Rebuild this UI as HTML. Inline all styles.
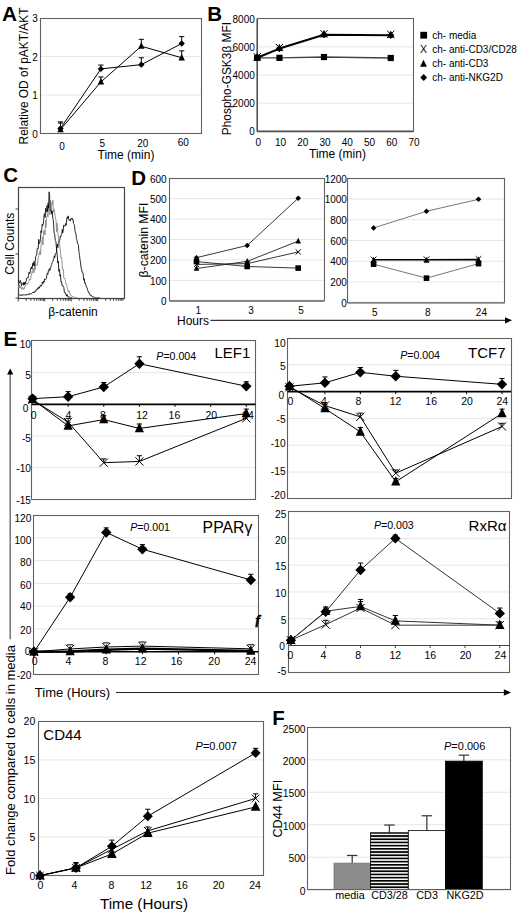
<!DOCTYPE html>
<html><head><meta charset="utf-8"><style>
html,body{margin:0;padding:0;background:#fff;}
svg{display:block;font-family:"Liberation Sans", sans-serif;}
</style></head><body>
<svg width="520" height="918" viewBox="0 0 520 918" font-family='"Liberation Sans", sans-serif'>
<rect width="520" height="918" fill="#fff"/>
<text x="2.00" y="20.50" font-size="20.8" text-anchor="start" font-weight="bold" >A</text>
<line x1="40.30" y1="95.00" x2="201.90" y2="95.00" stroke="#e6e6e6" stroke-width="1" />
<line x1="40.30" y1="56.60" x2="201.90" y2="56.60" stroke="#e6e6e6" stroke-width="1" />
<rect x="40.50" y="18.50" width="161.00" height="115.00" fill="none" stroke="#626262" stroke-width="1.1"/>
<text x="37.80" y="137.58" font-size="10" text-anchor="end" >0</text>
<text x="37.80" y="99.18" font-size="10" text-anchor="end" >1</text>
<text x="37.80" y="60.78" font-size="10" text-anchor="end" >2</text>
<text x="37.80" y="22.38" font-size="10" text-anchor="end" >3</text>
<text x="62.00" y="149.58" font-size="10" text-anchor="middle" >0</text>
<text x="102.40" y="147.48" font-size="10" text-anchor="middle" >5</text>
<text x="142.80" y="147.48" font-size="10" text-anchor="middle" >20</text>
<text x="183.20" y="146.28" font-size="10" text-anchor="middle" >60</text>
<text x="126.00" y="159.30" font-size="12" text-anchor="middle" >Time (min)</text>
<text x="28.20" y="76.00" font-size="11.9" text-anchor="middle" transform="rotate(-90 28.20 76.00)" >Relative OD of pAKT/AKT</text>
<polyline points="60.50,128.41 100.90,68.89 141.30,64.66 181.70,43.54" fill="none" stroke="#000" stroke-width="1" stroke-linejoin="round" />
<polyline points="60.50,129.56 100.90,81.94 141.30,46.23 181.70,57.75" fill="none" stroke="#000" stroke-width="1" stroke-linejoin="round" />
<line x1="60.50" y1="128.41" x2="60.50" y2="121.88" stroke="#000" stroke-width="1" />
<line x1="57.90" y1="121.88" x2="63.10" y2="121.88" stroke="#000" stroke-width="1" />
<line x1="100.90" y1="68.89" x2="100.90" y2="65.05" stroke="#000" stroke-width="1" />
<line x1="98.30" y1="65.05" x2="103.50" y2="65.05" stroke="#000" stroke-width="1" />
<line x1="141.30" y1="64.66" x2="141.30" y2="57.75" stroke="#000" stroke-width="1" />
<line x1="138.70" y1="57.75" x2="143.90" y2="57.75" stroke="#000" stroke-width="1" />
<line x1="181.70" y1="43.54" x2="181.70" y2="36.63" stroke="#000" stroke-width="1" />
<line x1="179.10" y1="36.63" x2="184.30" y2="36.63" stroke="#000" stroke-width="1" />
<line x1="60.50" y1="129.56" x2="60.50" y2="123.03" stroke="#000" stroke-width="1" />
<line x1="57.90" y1="123.03" x2="63.10" y2="123.03" stroke="#000" stroke-width="1" />
<line x1="100.90" y1="81.94" x2="100.90" y2="76.95" stroke="#000" stroke-width="1" />
<line x1="98.30" y1="76.95" x2="103.50" y2="76.95" stroke="#000" stroke-width="1" />
<line x1="141.30" y1="46.23" x2="141.30" y2="39.32" stroke="#000" stroke-width="1" />
<line x1="138.70" y1="39.32" x2="143.90" y2="39.32" stroke="#000" stroke-width="1" />
<line x1="181.70" y1="57.75" x2="181.70" y2="50.84" stroke="#000" stroke-width="1" />
<line x1="179.10" y1="50.84" x2="184.30" y2="50.84" stroke="#000" stroke-width="1" />
<polygon points="60.50,125.21 63.70,128.41 60.50,131.61 57.30,128.41" fill="#000"/>
<polygon points="100.90,65.69 104.10,68.89 100.90,72.09 97.70,68.89" fill="#000"/>
<polygon points="141.30,61.46 144.50,64.66 141.30,67.86 138.10,64.66" fill="#000"/>
<polygon points="181.70,40.34 184.90,43.54 181.70,46.74 178.50,43.54" fill="#000"/>
<polygon points="60.50,125.62 63.70,132.18 57.30,132.18" fill="#000"/>
<polygon points="100.90,78.01 104.10,84.57 97.70,84.57" fill="#000"/>
<polygon points="141.30,42.30 144.50,48.86 138.10,48.86" fill="#000"/>
<polygon points="181.70,53.82 184.90,60.38 178.50,60.38" fill="#000"/>
<text x="207.30" y="20.80" font-size="20.5" text-anchor="start" font-weight="bold" >B</text>
<line x1="257.20" y1="103.23" x2="413.00" y2="103.23" stroke="#e6e6e6" stroke-width="1" />
<line x1="257.20" y1="75.05" x2="413.00" y2="75.05" stroke="#e6e6e6" stroke-width="1" />
<line x1="257.20" y1="46.88" x2="413.00" y2="46.88" stroke="#e6e6e6" stroke-width="1" />
<rect x="257.50" y="18.50" width="156.00" height="113.00" fill="none" stroke="#626262" stroke-width="1.1"/>
<line x1="257.20" y1="18.70" x2="257.20" y2="131.40" stroke="#555" stroke-width="1.6" />
<line x1="257.20" y1="131.40" x2="413.00" y2="131.40" stroke="#555" stroke-width="1.6" />
<text x="254.80" y="135.28" font-size="10" text-anchor="end" >0</text>
<text x="254.80" y="107.11" font-size="10" text-anchor="end" >2000</text>
<text x="254.80" y="78.93" font-size="10" text-anchor="end" >4000</text>
<text x="254.80" y="50.75" font-size="10" text-anchor="end" >6000</text>
<text x="254.80" y="22.58" font-size="10" text-anchor="end" >8000</text>
<text x="258.20" y="145.78" font-size="10" text-anchor="middle" >0</text>
<text x="280.46" y="145.78" font-size="10" text-anchor="middle" >10</text>
<text x="302.71" y="145.78" font-size="10" text-anchor="middle" >20</text>
<text x="324.97" y="145.78" font-size="10" text-anchor="middle" >30</text>
<text x="347.23" y="145.78" font-size="10" text-anchor="middle" >40</text>
<text x="369.49" y="145.78" font-size="10" text-anchor="middle" >50</text>
<text x="391.74" y="145.78" font-size="10" text-anchor="middle" >60</text>
<text x="414.00" y="145.78" font-size="10" text-anchor="middle" >70</text>
<text x="337.50" y="157.80" font-size="12" text-anchor="middle" >Time (min)</text>
<text x="231.00" y="78.60" font-size="11.9" text-anchor="middle" transform="rotate(-90 231.00 78.60)" >Phospho-GSK3β MFI</text>
<polyline points="257.20,57.86 279.46,57.86 323.97,57.02 390.74,58.00" fill="none" stroke="#444" stroke-width="1.4" stroke-linejoin="round" />
<polyline points="257.20,57.72 279.46,48.57 323.97,34.76 390.74,35.32" fill="none" stroke="#000" stroke-width="2.0" stroke-linejoin="round" />
<rect x="254.10" y="54.76" width="6.20" height="6.20" fill="#000"/>
<rect x="276.36" y="54.76" width="6.20" height="6.20" fill="#000"/>
<rect x="320.87" y="53.92" width="6.20" height="6.20" fill="#000"/>
<rect x="387.64" y="54.90" width="6.20" height="6.20" fill="#000"/>
<polygon points="257.20,52.79 260.80,60.17 253.60,60.17" fill="#000"/>
<polygon points="257.20,54.12 260.80,57.72 257.20,61.32 253.60,57.72" fill="#000"/>
<path d="M253.60,53.12L260.80,60.32M260.80,53.12L253.60,60.32" stroke="#000" stroke-width="1" fill="none"/>
<polygon points="279.46,43.64 283.06,51.02 275.86,51.02" fill="#000"/>
<polygon points="279.46,44.97 283.06,48.57 279.46,52.17 275.86,48.57" fill="#000"/>
<path d="M275.86,43.97L283.06,51.17M283.06,43.97L275.86,51.17" stroke="#000" stroke-width="1" fill="none"/>
<polygon points="323.97,29.83 327.57,37.21 320.37,37.21" fill="#000"/>
<polygon points="323.97,31.16 327.57,34.76 323.97,38.36 320.37,34.76" fill="#000"/>
<path d="M320.37,30.16L327.57,37.36M327.57,30.16L320.37,37.36" stroke="#000" stroke-width="1" fill="none"/>
<polygon points="390.74,30.40 394.34,37.78 387.14,37.78" fill="#000"/>
<polygon points="390.74,31.72 394.34,35.32 390.74,38.92 387.14,35.32" fill="#000"/>
<path d="M387.14,30.72L394.34,37.92M394.34,30.72L387.14,37.92" stroke="#000" stroke-width="1" fill="none"/>
<rect x="420.30" y="31.80" width="6.80" height="6.80" fill="#000"/>
<text x="423.50" y="52.96" font-size="10.5" text-anchor="middle" >X</text>
<polygon points="423.50,59.72 426.90,66.69 420.10,66.69" fill="#000"/>
<polygon points="423.70,74.10 427.10,77.50 423.70,80.90 420.30,77.50" fill="#000"/>
<text x="432.30" y="38.78" font-size="10" text-anchor="start" >ch- media</text>
<text x="432.30" y="52.78" font-size="10" text-anchor="start" >ch- anti-CD3/CD28</text>
<text x="432.30" y="66.98" font-size="10" text-anchor="start" >ch- anti-CD3</text>
<text x="432.30" y="81.08" font-size="10" text-anchor="start" >ch- anti-NKG2D</text>
<text x="3.20" y="182.20" font-size="20.5" text-anchor="start" font-weight="bold" >C</text>
<rect x="18.50" y="187.50" width="106.00" height="111.00" fill="none" stroke="#444" stroke-width="1.2"/>
<line x1="15.50" y1="209.00" x2="18.20" y2="209.00" stroke="#444" stroke-width="1" />
<line x1="15.50" y1="254.00" x2="18.20" y2="254.00" stroke="#444" stroke-width="1" />
<line x1="15.50" y1="298.00" x2="18.20" y2="298.00" stroke="#444" stroke-width="1" />
<line x1="18.20" y1="298.20" x2="18.20" y2="301.40" stroke="#333" stroke-width="0.9" />
<line x1="26.18" y1="298.20" x2="26.18" y2="300.80" stroke="#333" stroke-width="0.9" />
<line x1="30.84" y1="298.20" x2="30.84" y2="300.80" stroke="#333" stroke-width="0.9" />
<line x1="34.15" y1="298.20" x2="34.15" y2="300.80" stroke="#333" stroke-width="0.9" />
<line x1="36.72" y1="298.20" x2="36.72" y2="300.80" stroke="#333" stroke-width="0.9" />
<line x1="38.82" y1="298.20" x2="38.82" y2="300.80" stroke="#333" stroke-width="0.9" />
<line x1="40.60" y1="298.20" x2="40.60" y2="300.80" stroke="#333" stroke-width="0.9" />
<line x1="42.13" y1="298.20" x2="42.13" y2="300.80" stroke="#333" stroke-width="0.9" />
<line x1="43.49" y1="298.20" x2="43.49" y2="300.80" stroke="#333" stroke-width="0.9" />
<line x1="44.70" y1="298.20" x2="44.70" y2="301.40" stroke="#333" stroke-width="0.9" />
<line x1="52.68" y1="298.20" x2="52.68" y2="300.80" stroke="#333" stroke-width="0.9" />
<line x1="57.34" y1="298.20" x2="57.34" y2="300.80" stroke="#333" stroke-width="0.9" />
<line x1="60.65" y1="298.20" x2="60.65" y2="300.80" stroke="#333" stroke-width="0.9" />
<line x1="63.22" y1="298.20" x2="63.22" y2="300.80" stroke="#333" stroke-width="0.9" />
<line x1="65.32" y1="298.20" x2="65.32" y2="300.80" stroke="#333" stroke-width="0.9" />
<line x1="67.10" y1="298.20" x2="67.10" y2="300.80" stroke="#333" stroke-width="0.9" />
<line x1="68.63" y1="298.20" x2="68.63" y2="300.80" stroke="#333" stroke-width="0.9" />
<line x1="69.99" y1="298.20" x2="69.99" y2="300.80" stroke="#333" stroke-width="0.9" />
<line x1="71.20" y1="298.20" x2="71.20" y2="301.40" stroke="#333" stroke-width="0.9" />
<line x1="79.18" y1="298.20" x2="79.18" y2="300.80" stroke="#333" stroke-width="0.9" />
<line x1="83.84" y1="298.20" x2="83.84" y2="300.80" stroke="#333" stroke-width="0.9" />
<line x1="87.15" y1="298.20" x2="87.15" y2="300.80" stroke="#333" stroke-width="0.9" />
<line x1="89.72" y1="298.20" x2="89.72" y2="300.80" stroke="#333" stroke-width="0.9" />
<line x1="91.82" y1="298.20" x2="91.82" y2="300.80" stroke="#333" stroke-width="0.9" />
<line x1="93.60" y1="298.20" x2="93.60" y2="300.80" stroke="#333" stroke-width="0.9" />
<line x1="95.13" y1="298.20" x2="95.13" y2="300.80" stroke="#333" stroke-width="0.9" />
<line x1="96.49" y1="298.20" x2="96.49" y2="300.80" stroke="#333" stroke-width="0.9" />
<line x1="97.70" y1="298.20" x2="97.70" y2="301.40" stroke="#333" stroke-width="0.9" />
<line x1="105.68" y1="298.20" x2="105.68" y2="300.80" stroke="#333" stroke-width="0.9" />
<line x1="110.34" y1="298.20" x2="110.34" y2="300.80" stroke="#333" stroke-width="0.9" />
<line x1="113.65" y1="298.20" x2="113.65" y2="300.80" stroke="#333" stroke-width="0.9" />
<line x1="116.22" y1="298.20" x2="116.22" y2="300.80" stroke="#333" stroke-width="0.9" />
<line x1="118.32" y1="298.20" x2="118.32" y2="300.80" stroke="#333" stroke-width="0.9" />
<line x1="120.10" y1="298.20" x2="120.10" y2="300.80" stroke="#333" stroke-width="0.9" />
<line x1="121.63" y1="298.20" x2="121.63" y2="300.80" stroke="#333" stroke-width="0.9" />
<line x1="122.99" y1="298.20" x2="122.99" y2="300.80" stroke="#333" stroke-width="0.9" />
<polyline points="18.60,285.95 19.07,287.96 19.53,284.75 20.00,287.93 20.47,286.20 20.93,286.40 21.40,289.41 21.87,287.44 22.33,287.34 22.80,288.67 23.27,289.44 23.73,287.96 24.20,289.04 24.65,286.33 25.10,286.76 25.55,286.19 26.00,284.34 26.45,283.57 26.90,282.93 27.35,284.66 27.80,284.31 28.28,282.97 28.76,282.56 29.24,278.89 29.72,280.13 30.20,279.67 30.68,279.63 31.16,275.29 31.64,275.11 32.12,271.40 32.60,272.68 33.08,268.97 33.56,268.11 34.04,272.85 34.52,265.15 35.00,269.83 35.48,267.49 35.96,264.67 36.44,265.48 36.92,264.50 37.40,264.73 37.85,259.76 38.30,257.23 38.75,255.66 39.20,253.01 39.65,254.27 40.10,250.52 40.55,254.69 41.00,244.90 41.50,243.82 42.00,241.62 42.50,236.80 43.00,245.13 43.50,231.41 44.00,233.45 44.50,229.98 45.00,235.01 45.50,220.03 46.00,227.44 46.50,217.48 47.00,216.87 47.48,213.18 47.97,216.97 48.45,208.02 48.93,210.84 49.42,211.08 49.90,214.84 50.40,200.12 50.90,212.59 51.40,209.12 51.90,201.89 52.40,204.34 52.90,199.94 53.35,211.95 53.80,208.90 54.25,210.09 54.70,213.06 55.15,216.19 55.60,219.30 56.05,219.57 56.50,232.12 57.00,222.99 57.50,226.11 58.00,234.51 58.50,237.42 59.00,242.19 59.50,243.22 59.98,247.03 60.46,252.13 60.94,257.57 61.42,257.03 61.90,260.89 62.38,269.15 62.86,269.41 63.34,268.90 63.82,277.82 64.30,278.99 64.80,278.25 65.30,279.23 65.80,283.92 66.30,284.06 66.80,285.84 67.30,287.67 67.78,289.47 68.26,292.19 68.74,291.06 69.22,290.69 69.70,293.69 70.18,293.78 70.66,295.18 71.14,296.10 71.62,295.76 72.10,296.52 72.55,296.68 73.01,296.21 73.46,297.26 73.92,297.70 74.37,297.22 74.82,297.14 75.28,297.25 75.73,297.16 76.18,297.28 76.64,297.55 77.09,297.54 77.55,297.78 78.00,298.00" fill="none" stroke="#8a8a8a" stroke-width="0.9" stroke-linejoin="round" />
<polyline points="18.60,279.36 19.09,283.09 19.58,282.82 20.07,280.98 20.56,280.48 21.04,283.52 21.53,285.69 22.02,282.83 22.51,283.52 23.00,283.66 23.45,285.25 23.90,282.13 24.35,284.97 24.80,282.26 25.25,284.01 25.70,281.96 26.15,281.02 26.60,278.24 27.08,278.22 27.56,277.59 28.04,278.06 28.52,275.77 29.00,272.25 29.48,273.53 29.96,273.70 30.44,269.85 30.92,267.93 31.40,266.82 31.85,269.10 32.30,267.69 32.75,263.20 33.20,265.82 33.65,262.85 34.10,261.38 34.55,265.96 35.00,264.13 35.60,256.65 36.20,255.73 36.80,253.83 37.28,248.39 37.76,248.08 38.24,248.70 38.72,239.35 39.20,243.80 39.80,242.83 40.40,239.66 41.00,230.72 41.57,232.67 42.13,224.23 42.70,225.72 43.18,223.98 43.66,220.56 44.14,214.71 44.62,213.49 45.10,217.53 45.58,208.45 46.05,212.49 46.52,210.78 47.00,205.60 47.52,211.81 48.05,203.21 48.58,208.05 49.10,191.83 49.57,194.94 50.03,209.27 50.50,210.72 51.10,209.86 51.70,214.11 52.30,211.03 52.75,218.00 53.20,219.48 53.65,225.65 54.10,232.80 54.70,234.49 55.30,240.39 55.90,241.58 56.35,246.41 56.80,252.04 57.25,254.77 57.70,263.04 58.30,261.14 58.90,271.43 59.50,269.12 59.98,276.16 60.46,274.57 60.94,281.79 61.42,281.25 61.90,284.09 62.40,286.22 62.90,285.63 63.40,286.72 63.90,287.71 64.40,292.83 64.90,292.29 65.41,293.03 65.93,294.17 66.44,296.13 66.96,294.20 67.47,296.17 67.99,296.37 68.50,297.44 69.00,296.64 69.50,297.27 70.00,297.85 70.50,298.17 71.00,298.20 71.50,297.67 72.00,298.00" fill="none" stroke="#111" stroke-width="0.9" stroke-linejoin="round" />
<polyline points="18.60,295.42 19.05,295.30 19.50,294.71 19.96,294.62 20.41,295.52 20.86,295.25 21.31,295.02 21.77,295.58 22.22,294.53 22.67,295.17 23.12,294.88 23.57,294.80 24.03,295.00 24.48,294.80 24.93,294.79 25.38,294.74 25.83,295.33 26.29,294.36 26.74,294.95 27.19,294.70 27.64,294.19 28.10,294.70 28.55,293.83 29.00,294.78 29.46,293.60 29.92,293.57 30.38,293.82 30.85,293.91 31.31,293.78 31.77,293.60 32.23,292.79 32.69,292.16 33.15,292.87 33.62,292.54 34.08,291.58 34.54,292.59 35.00,291.93 35.46,290.71 35.92,291.18 36.38,289.49 36.85,289.32 37.31,289.79 37.77,287.85 38.23,288.60 38.69,287.03 39.15,288.24 39.62,286.58 40.08,286.88 40.54,284.96 41.00,285.50 41.45,285.92 41.91,284.75 42.36,282.06 42.82,283.75 43.27,283.00 43.72,280.98 44.18,282.12 44.63,278.76 45.08,279.06 45.54,279.65 45.99,279.16 46.45,278.41 46.90,274.92 47.38,273.08 47.86,274.30 48.34,270.82 48.82,271.27 49.30,268.56 49.78,270.49 50.26,268.98 50.74,267.46 51.22,265.51 51.70,264.37 52.21,262.31 52.73,261.80 53.24,260.06 53.76,258.86 54.27,255.89 54.79,257.67 55.30,253.97 55.80,254.27 56.30,252.60 56.80,247.15 57.30,244.24 57.80,247.78 58.30,243.19 58.80,242.65 59.30,240.61 59.80,239.95 60.30,236.00 60.80,236.70 61.30,234.58 61.78,234.03 62.26,229.38 62.74,232.86 63.22,230.43 63.70,224.96 64.18,225.55 64.66,225.97 65.14,226.05 65.62,223.50 66.10,225.31 66.55,221.00 67.00,217.38 67.45,216.74 67.90,218.58 68.38,215.88 68.86,219.51 69.34,220.26 69.82,219.65 70.30,220.97 70.90,218.51 71.50,219.08 72.10,217.99 72.58,219.76 73.06,219.50 73.54,223.51 74.02,224.23 74.50,225.32 74.98,230.52 75.46,233.06 75.94,233.38 76.42,238.68 76.90,239.73 77.42,243.25 77.94,243.56 78.46,245.40 78.98,252.37 79.50,255.31 80.03,259.64 80.55,262.83 81.07,267.69 81.60,269.21 82.06,272.28 82.51,272.11 82.97,273.12 83.43,276.34 83.89,280.33 84.34,278.80 84.80,283.31 85.26,282.86 85.71,284.36 86.17,285.98 86.63,287.33 87.09,287.61 87.54,289.68 88.00,291.10 88.46,292.10 88.91,291.86 89.37,293.95 89.83,294.66 90.29,295.35 90.74,294.78 91.20,296.16 91.67,295.74 92.13,296.60 92.60,296.84 93.07,296.52 93.53,296.62 94.00,297.28 94.47,297.56 94.93,297.46 95.40,297.76 95.86,297.57 96.32,297.73 96.78,297.88 97.24,297.90 97.70,298.12 98.16,297.77 98.62,297.74 99.08,298.02 99.54,297.91 100.00,298.00" fill="none" stroke="#111" stroke-width="0.9" stroke-linejoin="round" />
<text x="13.60" y="243.70" font-size="12" text-anchor="middle" transform="rotate(-90 13.60 243.70)" >Cell Counts</text>
<text x="73.00" y="315.60" font-size="12" text-anchor="middle" >β-catenin</text>
<text x="131.20" y="184.60" font-size="20.5" text-anchor="start" font-weight="bold" >D</text>
<line x1="169.50" y1="280.37" x2="324.30" y2="280.37" stroke="#e6e6e6" stroke-width="1" />
<line x1="169.50" y1="259.93" x2="324.30" y2="259.93" stroke="#e6e6e6" stroke-width="1" />
<line x1="169.50" y1="239.50" x2="324.30" y2="239.50" stroke="#e6e6e6" stroke-width="1" />
<line x1="169.50" y1="219.07" x2="324.30" y2="219.07" stroke="#e6e6e6" stroke-width="1" />
<line x1="169.50" y1="198.63" x2="324.30" y2="198.63" stroke="#e6e6e6" stroke-width="1" />
<rect x="169.50" y="178.50" width="155.00" height="122.00" fill="none" stroke="#626262" stroke-width="1.1"/>
<text x="166.60" y="305.18" font-size="10" text-anchor="end" >0</text>
<text x="166.60" y="284.75" font-size="10" text-anchor="end" >100</text>
<text x="166.60" y="264.31" font-size="10" text-anchor="end" >200</text>
<text x="166.60" y="243.88" font-size="10" text-anchor="end" >300</text>
<text x="166.60" y="223.45" font-size="10" text-anchor="end" >400</text>
<text x="166.60" y="203.01" font-size="10" text-anchor="end" >500</text>
<text x="166.60" y="182.58" font-size="10" text-anchor="end" >600</text>
<line x1="169.50" y1="301.10" x2="324.30" y2="301.10" stroke="#8a8a8a" stroke-width="1.7" />
<text x="198.30" y="313.88" font-size="10" text-anchor="middle" >1</text>
<text x="251.00" y="313.88" font-size="10" text-anchor="middle" >3</text>
<text x="301.00" y="313.88" font-size="10" text-anchor="middle" >5</text>
<polyline points="196.50,257.69 247.20,245.43 298.20,198.22" fill="none" stroke="#222" stroke-width="0.9" stroke-linejoin="round" />
<polyline points="196.50,268.52 247.20,261.36 298.20,241.13" fill="none" stroke="#222" stroke-width="0.9" stroke-linejoin="round" />
<polyline points="196.50,264.43 247.20,263.61 298.20,251.96" fill="none" stroke="#222" stroke-width="0.9" stroke-linejoin="round" />
<polyline points="196.50,261.57 247.20,266.47 298.20,268.11" fill="none" stroke="#222" stroke-width="0.9" stroke-linejoin="round" />
<polygon points="196.50,254.89 199.30,257.69 196.50,260.49 193.70,257.69" fill="#000"/>
<polygon points="247.20,242.63 250.00,245.43 247.20,248.23 244.40,245.43" fill="#000"/>
<polygon points="298.20,195.42 301.00,198.22 298.20,201.02 295.40,198.22" fill="#000"/>
<polygon points="196.50,265.07 199.30,270.81 193.70,270.81" fill="#000"/>
<polygon points="247.20,257.92 250.00,263.66 244.40,263.66" fill="#000"/>
<polygon points="298.20,237.69 301.00,243.43 295.40,243.43" fill="#000"/>
<path d="M193.90,261.83L199.10,267.03M199.10,261.83L193.90,267.03" stroke="#000" stroke-width="1" fill="none"/>
<path d="M244.60,261.01L249.80,266.21M249.80,261.01L244.60,266.21" stroke="#000" stroke-width="1" fill="none"/>
<path d="M295.60,249.36L300.80,254.56M300.80,249.36L295.60,254.56" stroke="#000" stroke-width="1" fill="none"/>
<rect x="193.70" y="258.77" width="5.60" height="5.60" fill="#000"/>
<rect x="244.40" y="263.67" width="5.60" height="5.60" fill="#000"/>
<rect x="295.40" y="265.31" width="5.60" height="5.60" fill="#000"/>
<text x="147.70" y="240.00" font-size="12.2" text-anchor="middle" transform="rotate(-90 147.70 240.00)" >β-catenin MFI</text>
<line x1="347.60" y1="281.98" x2="504.80" y2="281.98" stroke="#e6e6e6" stroke-width="1" />
<line x1="347.60" y1="261.27" x2="504.80" y2="261.27" stroke="#e6e6e6" stroke-width="1" />
<line x1="347.60" y1="240.55" x2="504.80" y2="240.55" stroke="#e6e6e6" stroke-width="1" />
<line x1="347.60" y1="219.83" x2="504.80" y2="219.83" stroke="#e6e6e6" stroke-width="1" />
<line x1="347.60" y1="199.12" x2="504.80" y2="199.12" stroke="#e6e6e6" stroke-width="1" />
<rect x="347.50" y="178.50" width="157.00" height="124.00" fill="none" stroke="#626262" stroke-width="1.1"/>
<text x="346.90" y="306.88" font-size="10" text-anchor="end" >0</text>
<text x="346.90" y="286.16" font-size="10" text-anchor="end" >200</text>
<text x="346.90" y="265.45" font-size="10" text-anchor="end" >400</text>
<text x="346.90" y="244.73" font-size="10" text-anchor="end" >600</text>
<text x="346.90" y="224.01" font-size="10" text-anchor="end" >800</text>
<text x="346.90" y="203.30" font-size="10" text-anchor="end" >1000</text>
<text x="346.90" y="182.58" font-size="10" text-anchor="end" >1200</text>
<line x1="347.60" y1="303.00" x2="504.80" y2="303.00" stroke="#8a8a8a" stroke-width="1.7" />
<text x="374.80" y="315.58" font-size="10" text-anchor="middle" >5</text>
<text x="427.80" y="315.58" font-size="10" text-anchor="middle" >8</text>
<text x="481.40" y="315.58" font-size="10" text-anchor="middle" >24</text>
<polyline points="373.60,227.91 426.50,211.24 478.50,199.32" fill="none" stroke="#777" stroke-width="1" stroke-linejoin="round" />
<polyline points="373.60,264.17 426.50,278.15 478.50,263.65" fill="none" stroke="#777" stroke-width="1" stroke-linejoin="round" />
<polyline points="373.60,259.82 426.50,259.82 478.50,259.61" fill="none" stroke="#000" stroke-width="1.6" stroke-linejoin="round" />
<polygon points="373.60,225.11 376.40,227.91 373.60,230.71 370.80,227.91" fill="#000"/>
<polygon points="426.50,208.44 429.30,211.24 426.50,214.04 423.70,211.24" fill="#000"/>
<polygon points="478.50,196.52 481.30,199.32 478.50,202.12 475.70,199.32" fill="#000"/>
<rect x="370.80" y="261.37" width="5.60" height="5.60" fill="#000"/>
<rect x="423.70" y="275.35" width="5.60" height="5.60" fill="#000"/>
<rect x="475.70" y="260.85" width="5.60" height="5.60" fill="#000"/>
<polygon points="373.60,256.79 376.40,262.53 370.80,262.53" fill="#000"/>
<polygon points="426.50,256.99 429.30,262.73 423.70,262.73" fill="#000"/>
<polygon points="478.50,256.58 481.30,262.32 475.70,262.32" fill="#000"/>
<path d="M370.80,256.60L376.40,262.20M376.40,256.60L370.80,262.20" stroke="#000" stroke-width="1" fill="none"/>
<path d="M423.70,256.39L429.30,262.00M429.30,256.39L423.70,262.00" stroke="#000" stroke-width="1" fill="none"/>
<path d="M475.70,256.19L481.30,261.79M481.30,256.19L475.70,261.79" stroke="#000" stroke-width="1" fill="none"/>
<text x="193.00" y="324.60" font-size="12" text-anchor="middle" >Hours</text>
<line x1="210.50" y1="320.30" x2="508.00" y2="320.30" stroke="#000" stroke-width="1" />
<polygon points="512,320.3 505,317.2 505,323.4" fill="#000"/>
<text x="3.40" y="345.50" font-size="20.8" text-anchor="start" font-weight="bold" >E</text>
<line x1="31.50" y1="372.62" x2="255.40" y2="372.62" stroke="#e6e6e6" stroke-width="1" />
<line x1="31.50" y1="436.06" x2="255.40" y2="436.06" stroke="#e6e6e6" stroke-width="1" />
<line x1="31.50" y1="467.78" x2="255.40" y2="467.78" stroke="#e6e6e6" stroke-width="1" />
<rect x="31.50" y="340.50" width="224.00" height="159.00" fill="none" stroke="#626262" stroke-width="1.1"/>
<text x="31.00" y="348.15" font-size="10.2" text-anchor="end" >10</text>
<text x="31.00" y="378.85" font-size="10.2" text-anchor="end" >5</text>
<text x="28.50" y="411.65" font-size="10.2" text-anchor="end" >0</text>
<text x="31.00" y="442.45" font-size="10.2" text-anchor="end" >-5</text>
<text x="31.00" y="472.15" font-size="10.2" text-anchor="end" >-10</text>
<text x="31.00" y="503.65" font-size="10.2" text-anchor="end" >-15</text>
<line x1="31.50" y1="404.34" x2="255.40" y2="404.34" stroke="#000" stroke-width="1.6" />
<line x1="68.13" y1="404.34" x2="68.13" y2="406.84" stroke="#000" stroke-width="1" />
<line x1="103.77" y1="404.34" x2="103.77" y2="406.84" stroke="#000" stroke-width="1" />
<line x1="139.40" y1="404.34" x2="139.40" y2="406.84" stroke="#000" stroke-width="1" />
<line x1="175.03" y1="404.34" x2="175.03" y2="406.84" stroke="#000" stroke-width="1" />
<line x1="210.67" y1="404.34" x2="210.67" y2="406.84" stroke="#000" stroke-width="1" />
<line x1="246.30" y1="404.34" x2="246.30" y2="406.84" stroke="#000" stroke-width="1" />
<text x="33.60" y="418.96" font-size="10.5" text-anchor="middle" >0</text>
<text x="68.50" y="418.96" font-size="10.5" text-anchor="middle" >4</text>
<text x="103.00" y="418.96" font-size="10.5" text-anchor="middle" >8</text>
<text x="142.10" y="418.96" font-size="10.5" text-anchor="middle" >12</text>
<text x="174.40" y="418.96" font-size="10.5" text-anchor="middle" >16</text>
<text x="211.30" y="418.96" font-size="10.5" text-anchor="middle" >20</text>
<text x="248.00" y="418.96" font-size="10.5" text-anchor="middle" >24</text>
<polyline points="32.50,399.90 68.13,422.10 103.77,462.70 139.40,461.44 246.30,418.30" fill="none" stroke="#000" stroke-width="1" stroke-linejoin="round" />
<polyline points="32.50,399.26 68.13,425.91 103.77,419.57 139.40,428.45 246.30,413.54" fill="none" stroke="#000" stroke-width="1" stroke-linejoin="round" />
<polyline points="32.50,398.63 68.13,396.73 103.77,386.96 139.40,363.74 246.30,386.20" fill="none" stroke="#000" stroke-width="1" stroke-linejoin="round" />
<line x1="68.13" y1="422.10" x2="68.13" y2="418.30" stroke="#000" stroke-width="1" />
<line x1="65.53" y1="418.30" x2="70.73" y2="418.30" stroke="#000" stroke-width="1" />
<line x1="103.77" y1="462.70" x2="103.77" y2="458.90" stroke="#000" stroke-width="1" />
<line x1="101.17" y1="458.90" x2="106.37" y2="458.90" stroke="#000" stroke-width="1" />
<line x1="139.40" y1="461.44" x2="139.40" y2="455.73" stroke="#000" stroke-width="1" />
<line x1="136.80" y1="455.73" x2="142.00" y2="455.73" stroke="#000" stroke-width="1" />
<line x1="246.30" y1="418.30" x2="246.30" y2="414.49" stroke="#000" stroke-width="1" />
<line x1="243.70" y1="414.49" x2="248.90" y2="414.49" stroke="#000" stroke-width="1" />
<line x1="68.13" y1="425.91" x2="68.13" y2="422.10" stroke="#000" stroke-width="1" />
<line x1="65.53" y1="422.10" x2="70.73" y2="422.10" stroke="#000" stroke-width="1" />
<line x1="103.77" y1="419.57" x2="103.77" y2="415.76" stroke="#000" stroke-width="1" />
<line x1="101.17" y1="415.76" x2="106.37" y2="415.76" stroke="#000" stroke-width="1" />
<line x1="139.40" y1="428.45" x2="139.40" y2="424.01" stroke="#000" stroke-width="1" />
<line x1="136.80" y1="424.01" x2="142.00" y2="424.01" stroke="#000" stroke-width="1" />
<line x1="246.30" y1="413.54" x2="246.30" y2="409.10" stroke="#000" stroke-width="1" />
<line x1="243.70" y1="409.10" x2="248.90" y2="409.10" stroke="#000" stroke-width="1" />
<line x1="32.50" y1="398.63" x2="32.50" y2="395.46" stroke="#000" stroke-width="1" />
<line x1="29.90" y1="395.46" x2="35.10" y2="395.46" stroke="#000" stroke-width="1" />
<line x1="68.13" y1="396.73" x2="68.13" y2="391.65" stroke="#000" stroke-width="1" />
<line x1="65.53" y1="391.65" x2="70.73" y2="391.65" stroke="#000" stroke-width="1" />
<line x1="103.77" y1="386.96" x2="103.77" y2="382.52" stroke="#000" stroke-width="1" />
<line x1="101.17" y1="382.52" x2="106.37" y2="382.52" stroke="#000" stroke-width="1" />
<line x1="139.40" y1="363.74" x2="139.40" y2="356.76" stroke="#000" stroke-width="1" />
<line x1="136.80" y1="356.76" x2="142.00" y2="356.76" stroke="#000" stroke-width="1" />
<line x1="246.30" y1="386.20" x2="246.30" y2="381.76" stroke="#000" stroke-width="1" />
<line x1="243.70" y1="381.76" x2="248.90" y2="381.76" stroke="#000" stroke-width="1" />
<path d="M28.40,395.80L36.60,404.00M36.60,395.80L28.40,404.00" stroke="#000" stroke-width="1" fill="none"/>
<path d="M64.03,418.00L72.23,426.20M72.23,418.00L64.03,426.20" stroke="#000" stroke-width="1" fill="none"/>
<path d="M99.67,458.60L107.87,466.80M107.87,458.60L99.67,466.80" stroke="#000" stroke-width="1" fill="none"/>
<path d="M135.30,457.34L143.50,465.54M143.50,457.34L135.30,465.54" stroke="#000" stroke-width="1" fill="none"/>
<path d="M242.20,414.20L250.40,422.40M250.40,414.20L242.20,422.40" stroke="#000" stroke-width="1" fill="none"/>
<polygon points="32.50,393.61 37.10,403.04 27.90,403.04" fill="#000"/>
<polygon points="68.13,420.25 72.73,429.68 63.53,429.68" fill="#000"/>
<polygon points="103.77,413.91 108.37,423.34 99.17,423.34" fill="#000"/>
<polygon points="139.40,422.79 144.00,432.22 134.80,432.22" fill="#000"/>
<polygon points="246.30,407.88 250.90,417.31 241.70,417.31" fill="#000"/>
<polygon points="32.50,393.43 37.70,398.63 32.50,403.83 27.30,398.63" fill="#000"/>
<polygon points="68.13,391.53 73.33,396.73 68.13,401.93 62.93,396.73" fill="#000"/>
<polygon points="103.77,381.76 108.97,386.96 103.77,392.16 98.57,386.96" fill="#000"/>
<polygon points="139.40,358.54 144.60,363.74 139.40,368.94 134.20,363.74" fill="#000"/>
<polygon points="246.30,381.00 251.50,386.20 246.30,391.40 241.10,386.20" fill="#000"/>
<text x="156.30" y="359.59" font-size="10.6" text-anchor="start" ><tspan font-style="italic">P</tspan>=0.004</text>
<text x="214.50" y="357.77" font-size="15" text-anchor="start" >LEF1</text>
<line x1="287.50" y1="364.82" x2="511.10" y2="364.82" stroke="#e6e6e6" stroke-width="1" />
<line x1="287.50" y1="418.45" x2="511.10" y2="418.45" stroke="#e6e6e6" stroke-width="1" />
<line x1="287.50" y1="445.27" x2="511.10" y2="445.27" stroke="#e6e6e6" stroke-width="1" />
<line x1="287.50" y1="472.08" x2="511.10" y2="472.08" stroke="#e6e6e6" stroke-width="1" />
<rect x="287.50" y="338.50" width="224.00" height="160.00" fill="none" stroke="#626262" stroke-width="1.1"/>
<text x="285.60" y="347.25" font-size="10.2" text-anchor="end" >10</text>
<text x="285.60" y="370.45" font-size="10.2" text-anchor="end" >5</text>
<text x="284.10" y="398.65" font-size="10.2" text-anchor="end" >0</text>
<text x="285.60" y="422.95" font-size="10.2" text-anchor="end" >-5</text>
<text x="285.60" y="447.45" font-size="10.2" text-anchor="end" >-10</text>
<text x="285.60" y="474.85" font-size="10.2" text-anchor="end" >-15</text>
<text x="285.60" y="499.05" font-size="10.2" text-anchor="end" >-20</text>
<line x1="287.50" y1="391.63" x2="511.10" y2="391.63" stroke="#000" stroke-width="1.6" />
<line x1="324.92" y1="391.63" x2="324.92" y2="394.13" stroke="#000" stroke-width="1" />
<line x1="360.33" y1="391.63" x2="360.33" y2="394.13" stroke="#000" stroke-width="1" />
<line x1="395.75" y1="391.63" x2="395.75" y2="394.13" stroke="#000" stroke-width="1" />
<line x1="431.17" y1="391.63" x2="431.17" y2="394.13" stroke="#000" stroke-width="1" />
<line x1="466.58" y1="391.63" x2="466.58" y2="394.13" stroke="#000" stroke-width="1" />
<line x1="502.00" y1="391.63" x2="502.00" y2="394.13" stroke="#000" stroke-width="1" />
<text x="290.30" y="404.76" font-size="10.5" text-anchor="middle" >0</text>
<text x="323.80" y="404.76" font-size="10.5" text-anchor="middle" >4</text>
<text x="358.30" y="404.76" font-size="10.5" text-anchor="middle" >8</text>
<text x="395.60" y="404.76" font-size="10.5" text-anchor="middle" >12</text>
<text x="431.20" y="404.76" font-size="10.5" text-anchor="middle" >16</text>
<text x="467.10" y="404.76" font-size="10.5" text-anchor="middle" >20</text>
<text x="502.30" y="404.76" font-size="10.5" text-anchor="middle" >24</text>
<polyline points="289.50,387.34 324.92,405.58 360.33,416.84 395.75,473.16 502.00,426.50" fill="none" stroke="#000" stroke-width="1" stroke-linejoin="round" />
<polyline points="289.50,386.27 324.92,408.53 360.33,431.86 395.75,481.74 502.00,413.46" fill="none" stroke="#000" stroke-width="1" stroke-linejoin="round" />
<polyline points="289.50,386.27 324.92,382.84 360.33,372.33 395.75,376.24 502.00,384.34" fill="none" stroke="#000" stroke-width="1" stroke-linejoin="round" />
<line x1="324.92" y1="405.58" x2="324.92" y2="402.90" stroke="#000" stroke-width="1" />
<line x1="322.32" y1="402.90" x2="327.52" y2="402.90" stroke="#000" stroke-width="1" />
<line x1="360.33" y1="416.84" x2="360.33" y2="413.09" stroke="#000" stroke-width="1" />
<line x1="357.73" y1="413.09" x2="362.93" y2="413.09" stroke="#000" stroke-width="1" />
<line x1="395.75" y1="473.16" x2="395.75" y2="469.94" stroke="#000" stroke-width="1" />
<line x1="393.15" y1="469.94" x2="398.35" y2="469.94" stroke="#000" stroke-width="1" />
<line x1="502.00" y1="426.50" x2="502.00" y2="423.28" stroke="#000" stroke-width="1" />
<line x1="499.40" y1="423.28" x2="504.60" y2="423.28" stroke="#000" stroke-width="1" />
<line x1="324.92" y1="408.53" x2="324.92" y2="404.77" stroke="#000" stroke-width="1" />
<line x1="322.32" y1="404.77" x2="327.52" y2="404.77" stroke="#000" stroke-width="1" />
<line x1="360.33" y1="431.86" x2="360.33" y2="427.57" stroke="#000" stroke-width="1" />
<line x1="357.73" y1="427.57" x2="362.93" y2="427.57" stroke="#000" stroke-width="1" />
<line x1="395.75" y1="481.74" x2="395.75" y2="478.52" stroke="#000" stroke-width="1" />
<line x1="393.15" y1="478.52" x2="398.35" y2="478.52" stroke="#000" stroke-width="1" />
<line x1="502.00" y1="413.46" x2="502.00" y2="409.17" stroke="#000" stroke-width="1" />
<line x1="499.40" y1="409.17" x2="504.60" y2="409.17" stroke="#000" stroke-width="1" />
<line x1="289.50" y1="386.27" x2="289.50" y2="383.59" stroke="#000" stroke-width="1" />
<line x1="286.90" y1="383.59" x2="292.10" y2="383.59" stroke="#000" stroke-width="1" />
<line x1="324.92" y1="382.84" x2="324.92" y2="376.94" stroke="#000" stroke-width="1" />
<line x1="322.32" y1="376.94" x2="327.52" y2="376.94" stroke="#000" stroke-width="1" />
<line x1="360.33" y1="372.33" x2="360.33" y2="367.50" stroke="#000" stroke-width="1" />
<line x1="357.73" y1="367.50" x2="362.93" y2="367.50" stroke="#000" stroke-width="1" />
<line x1="395.75" y1="376.24" x2="395.75" y2="370.34" stroke="#000" stroke-width="1" />
<line x1="393.15" y1="370.34" x2="398.35" y2="370.34" stroke="#000" stroke-width="1" />
<line x1="502.00" y1="384.34" x2="502.00" y2="378.44" stroke="#000" stroke-width="1" />
<line x1="499.40" y1="378.44" x2="504.60" y2="378.44" stroke="#000" stroke-width="1" />
<path d="M285.40,383.24L293.60,391.44M293.60,383.24L285.40,391.44" stroke="#000" stroke-width="1" fill="none"/>
<path d="M320.82,401.48L329.02,409.68M329.02,401.48L320.82,409.68" stroke="#000" stroke-width="1" fill="none"/>
<path d="M356.23,412.74L364.43,420.94M364.43,412.74L356.23,420.94" stroke="#000" stroke-width="1" fill="none"/>
<path d="M391.65,469.06L399.85,477.26M399.85,469.06L391.65,477.26" stroke="#000" stroke-width="1" fill="none"/>
<path d="M497.90,422.39L506.10,430.60M506.10,422.39L497.90,430.60" stroke="#000" stroke-width="1" fill="none"/>
<polygon points="289.50,380.61 294.10,390.04 284.90,390.04" fill="#000"/>
<polygon points="324.92,402.87 329.52,412.30 320.32,412.30" fill="#000"/>
<polygon points="360.33,426.20 364.93,435.63 355.73,435.63" fill="#000"/>
<polygon points="395.75,476.08 400.35,485.51 391.15,485.51" fill="#000"/>
<polygon points="502.00,407.80 506.60,417.23 497.40,417.23" fill="#000"/>
<polygon points="289.50,381.07 294.70,386.27 289.50,391.47 284.30,386.27" fill="#000"/>
<polygon points="324.92,377.64 330.12,382.84 324.92,388.04 319.72,382.84" fill="#000"/>
<polygon points="360.33,367.13 365.53,372.33 360.33,377.53 355.13,372.33" fill="#000"/>
<polygon points="395.75,371.04 400.95,376.24 395.75,381.44 390.55,376.24" fill="#000"/>
<polygon points="502.00,379.14 507.20,384.34 502.00,389.54 496.80,384.34" fill="#000"/>
<text x="400.20" y="358.79" font-size="10.6" text-anchor="start" ><tspan font-style="italic">P</tspan>=0.004</text>
<text x="468.00" y="357.67" font-size="15" text-anchor="start" >TCF7</text>
<line x1="33.40" y1="629.00" x2="258.30" y2="629.00" stroke="#e6e6e6" stroke-width="1" />
<line x1="33.40" y1="606.20" x2="258.30" y2="606.20" stroke="#e6e6e6" stroke-width="1" />
<line x1="33.40" y1="583.40" x2="258.30" y2="583.40" stroke="#e6e6e6" stroke-width="1" />
<line x1="33.40" y1="560.60" x2="258.30" y2="560.60" stroke="#e6e6e6" stroke-width="1" />
<line x1="33.40" y1="537.80" x2="258.30" y2="537.80" stroke="#e6e6e6" stroke-width="1" />
<rect x="33.50" y="515.50" width="225.00" height="159.00" fill="none" stroke="#626262" stroke-width="1.1"/>
<text x="31.40" y="522.35" font-size="10.2" text-anchor="end" >120</text>
<text x="31.40" y="543.65" font-size="10.2" text-anchor="end" >100</text>
<text x="31.40" y="566.15" font-size="10.2" text-anchor="end" >80</text>
<text x="31.40" y="588.65" font-size="10.2" text-anchor="end" >60</text>
<text x="31.40" y="610.45" font-size="10.2" text-anchor="end" >40</text>
<text x="31.40" y="633.65" font-size="10.2" text-anchor="end" >20</text>
<text x="30.40" y="654.95" font-size="10.2" text-anchor="end" >0</text>
<text x="31.40" y="678.65" font-size="10.2" text-anchor="end" >-20</text>
<line x1="33.40" y1="651.80" x2="258.30" y2="651.80" stroke="#000" stroke-width="1.6" />
<line x1="70.13" y1="651.80" x2="70.13" y2="654.30" stroke="#000" stroke-width="1" />
<line x1="106.27" y1="651.80" x2="106.27" y2="654.30" stroke="#000" stroke-width="1" />
<line x1="142.40" y1="651.80" x2="142.40" y2="654.30" stroke="#000" stroke-width="1" />
<line x1="178.53" y1="651.80" x2="178.53" y2="654.30" stroke="#000" stroke-width="1" />
<line x1="214.67" y1="651.80" x2="214.67" y2="654.30" stroke="#000" stroke-width="1" />
<line x1="250.80" y1="651.80" x2="250.80" y2="654.30" stroke="#000" stroke-width="1" />
<text x="34.60" y="664.76" font-size="10.5" text-anchor="middle" >0</text>
<text x="68.50" y="664.76" font-size="10.5" text-anchor="middle" >4</text>
<text x="105.40" y="664.76" font-size="10.5" text-anchor="middle" >8</text>
<text x="140.70" y="664.76" font-size="10.5" text-anchor="middle" >12</text>
<text x="176.50" y="664.76" font-size="10.5" text-anchor="middle" >16</text>
<text x="214.20" y="664.76" font-size="10.5" text-anchor="middle" >20</text>
<text x="250.60" y="664.76" font-size="10.5" text-anchor="middle" >24</text>
<polyline points="34.00,651.80 70.13,648.95 106.27,647.01 142.40,646.10 250.80,648.84" fill="none" stroke="#000" stroke-width="1" stroke-linejoin="round" />
<polyline points="34.00,651.80 70.13,651.46 106.27,649.75 142.40,648.61 250.80,650.89" fill="none" stroke="#000" stroke-width="2.4" stroke-linejoin="round" />
<polyline points="34.00,651.80 70.13,597.31 106.27,532.44 142.40,549.20 250.80,579.98" fill="none" stroke="#000" stroke-width="1" stroke-linejoin="round" />
<line x1="70.13" y1="597.31" x2="70.13" y2="593.89" stroke="#000" stroke-width="1" />
<line x1="67.53" y1="593.89" x2="72.73" y2="593.89" stroke="#000" stroke-width="1" />
<line x1="106.27" y1="532.44" x2="106.27" y2="527.88" stroke="#000" stroke-width="1" />
<line x1="103.67" y1="527.88" x2="108.87" y2="527.88" stroke="#000" stroke-width="1" />
<line x1="142.40" y1="549.20" x2="142.40" y2="544.64" stroke="#000" stroke-width="1" />
<line x1="139.80" y1="544.64" x2="145.00" y2="544.64" stroke="#000" stroke-width="1" />
<line x1="250.80" y1="579.98" x2="250.80" y2="574.28" stroke="#000" stroke-width="1" />
<line x1="248.20" y1="574.28" x2="253.40" y2="574.28" stroke="#000" stroke-width="1" />
<path d="M29.90,647.70L38.10,655.90M38.10,647.70L29.90,655.90" stroke="#000" stroke-width="1" fill="none"/>
<path d="M66.03,644.85L74.23,653.05M74.23,644.85L66.03,653.05" stroke="#000" stroke-width="1" fill="none"/>
<line x1="66.93" y1="644.85" x2="73.33" y2="644.85" stroke="#000" stroke-width="1" />
<path d="M102.17,642.91L110.37,651.11M110.37,642.91L102.17,651.11" stroke="#000" stroke-width="1" fill="none"/>
<line x1="103.07" y1="642.91" x2="109.47" y2="642.91" stroke="#000" stroke-width="1" />
<path d="M138.30,642.00L146.50,650.20M146.50,642.00L138.30,650.20" stroke="#000" stroke-width="1" fill="none"/>
<line x1="139.20" y1="642.00" x2="145.60" y2="642.00" stroke="#000" stroke-width="1" />
<path d="M246.70,644.74L254.90,652.94M254.90,644.74L246.70,652.94" stroke="#000" stroke-width="1" fill="none"/>
<line x1="247.60" y1="644.74" x2="254.00" y2="644.74" stroke="#000" stroke-width="1" />
<polygon points="34.00,646.14 38.60,655.57 29.40,655.57" fill="#000"/>
<polygon points="70.13,645.80 74.73,655.23 65.53,655.23" fill="#000"/>
<polygon points="106.27,644.09 110.87,653.52 101.67,653.52" fill="#000"/>
<polygon points="142.40,642.95 147.00,652.38 137.80,652.38" fill="#000"/>
<polygon points="250.80,645.23 255.40,654.66 246.20,654.66" fill="#000"/>
<polygon points="34.00,646.60 39.20,651.80 34.00,657.00 28.80,651.80" fill="#000"/>
<polygon points="70.13,592.11 75.33,597.31 70.13,602.51 64.93,597.31" fill="#000"/>
<polygon points="106.27,527.24 111.47,532.44 106.27,537.64 101.07,532.44" fill="#000"/>
<polygon points="142.40,544.00 147.60,549.20 142.40,554.40 137.20,549.20" fill="#000"/>
<polygon points="250.80,574.78 256.00,579.98 250.80,585.18 245.60,579.98" fill="#000"/>
<text x="130.20" y="530.79" font-size="10.6" text-anchor="start" ><tspan font-style="italic">P</tspan>=0.001</text>
<text x="202.60" y="532.66" font-size="15.8" text-anchor="start" >PPARγ</text>
<line x1="288.90" y1="618.73" x2="509.80" y2="618.73" stroke="#e6e6e6" stroke-width="1" />
<line x1="288.90" y1="591.95" x2="509.80" y2="591.95" stroke="#e6e6e6" stroke-width="1" />
<line x1="288.90" y1="565.17" x2="509.80" y2="565.17" stroke="#e6e6e6" stroke-width="1" />
<line x1="288.90" y1="538.38" x2="509.80" y2="538.38" stroke="#e6e6e6" stroke-width="1" />
<rect x="288.50" y="511.50" width="221.00" height="161.00" fill="none" stroke="#626262" stroke-width="1.1"/>
<text x="286.40" y="518.45" font-size="10.2" text-anchor="end" >25</text>
<text x="286.40" y="544.05" font-size="10.2" text-anchor="end" >20</text>
<text x="286.40" y="569.65" font-size="10.2" text-anchor="end" >15</text>
<text x="286.40" y="596.55" font-size="10.2" text-anchor="end" >10</text>
<text x="286.40" y="624.05" font-size="10.2" text-anchor="end" >5</text>
<text x="284.90" y="650.35" font-size="10.2" text-anchor="end" >0</text>
<text x="286.40" y="674.65" font-size="10.2" text-anchor="end" >-5</text>
<line x1="288.90" y1="645.52" x2="509.80" y2="645.52" stroke="#444" stroke-width="1.2" />
<line x1="325.72" y1="645.52" x2="325.72" y2="648.02" stroke="#444" stroke-width="1" />
<line x1="360.53" y1="645.52" x2="360.53" y2="648.02" stroke="#444" stroke-width="1" />
<line x1="395.35" y1="645.52" x2="395.35" y2="648.02" stroke="#444" stroke-width="1" />
<line x1="430.17" y1="645.52" x2="430.17" y2="648.02" stroke="#444" stroke-width="1" />
<line x1="464.98" y1="645.52" x2="464.98" y2="648.02" stroke="#444" stroke-width="1" />
<line x1="499.80" y1="645.52" x2="499.80" y2="648.02" stroke="#444" stroke-width="1" />
<text x="290.50" y="658.76" font-size="10.5" text-anchor="middle" >0</text>
<text x="323.50" y="658.76" font-size="10.5" text-anchor="middle" >4</text>
<text x="358.20" y="658.76" font-size="10.5" text-anchor="middle" >8</text>
<text x="395.30" y="658.76" font-size="10.5" text-anchor="middle" >12</text>
<text x="430.30" y="658.76" font-size="10.5" text-anchor="middle" >16</text>
<text x="465.60" y="658.76" font-size="10.5" text-anchor="middle" >20</text>
<text x="500.40" y="658.76" font-size="10.5" text-anchor="middle" >24</text>
<polyline points="290.90,640.16 325.72,624.63 360.53,608.02 395.35,625.16 499.80,625.16" fill="none" stroke="#333" stroke-width="1" stroke-linejoin="round" />
<polyline points="290.90,640.16 325.72,611.23 360.53,606.41 395.35,620.88 499.80,625.16" fill="none" stroke="#333" stroke-width="1" stroke-linejoin="round" />
<polyline points="290.90,640.16 325.72,611.77 360.53,569.99 395.35,538.38 499.80,613.38" fill="none" stroke="#333" stroke-width="1" stroke-linejoin="round" />
<line x1="325.72" y1="624.63" x2="325.72" y2="620.34" stroke="#000" stroke-width="1" />
<line x1="323.12" y1="620.34" x2="328.32" y2="620.34" stroke="#000" stroke-width="1" />
<line x1="360.53" y1="608.02" x2="360.53" y2="601.59" stroke="#000" stroke-width="1" />
<line x1="357.93" y1="601.59" x2="363.13" y2="601.59" stroke="#000" stroke-width="1" />
<line x1="395.35" y1="625.16" x2="395.35" y2="620.88" stroke="#000" stroke-width="1" />
<line x1="392.75" y1="620.88" x2="397.95" y2="620.88" stroke="#000" stroke-width="1" />
<line x1="325.72" y1="611.23" x2="325.72" y2="606.95" stroke="#000" stroke-width="1" />
<line x1="323.12" y1="606.95" x2="328.32" y2="606.95" stroke="#000" stroke-width="1" />
<line x1="360.53" y1="606.41" x2="360.53" y2="599.45" stroke="#000" stroke-width="1" />
<line x1="357.93" y1="599.45" x2="363.13" y2="599.45" stroke="#000" stroke-width="1" />
<line x1="395.35" y1="620.88" x2="395.35" y2="615.52" stroke="#000" stroke-width="1" />
<line x1="392.75" y1="615.52" x2="397.95" y2="615.52" stroke="#000" stroke-width="1" />
<line x1="499.80" y1="625.16" x2="499.80" y2="621.95" stroke="#000" stroke-width="1" />
<line x1="497.20" y1="621.95" x2="502.40" y2="621.95" stroke="#000" stroke-width="1" />
<line x1="325.72" y1="611.77" x2="325.72" y2="608.02" stroke="#000" stroke-width="1" />
<line x1="323.12" y1="608.02" x2="328.32" y2="608.02" stroke="#000" stroke-width="1" />
<line x1="360.53" y1="569.99" x2="360.53" y2="563.02" stroke="#000" stroke-width="1" />
<line x1="357.93" y1="563.02" x2="363.13" y2="563.02" stroke="#000" stroke-width="1" />
<line x1="395.35" y1="538.38" x2="395.35" y2="535.17" stroke="#000" stroke-width="1" />
<line x1="392.75" y1="535.17" x2="397.95" y2="535.17" stroke="#000" stroke-width="1" />
<line x1="499.80" y1="613.38" x2="499.80" y2="608.02" stroke="#000" stroke-width="1" />
<line x1="497.20" y1="608.02" x2="502.40" y2="608.02" stroke="#000" stroke-width="1" />
<path d="M286.80,636.06L295.00,644.26M295.00,636.06L286.80,644.26" stroke="#000" stroke-width="1" fill="none"/>
<path d="M321.62,620.53L329.82,628.73M329.82,620.53L321.62,628.73" stroke="#000" stroke-width="1" fill="none"/>
<path d="M356.43,603.92L364.63,612.12M364.63,603.92L356.43,612.12" stroke="#000" stroke-width="1" fill="none"/>
<path d="M391.25,621.06L399.45,629.26M399.45,621.06L391.25,629.26" stroke="#000" stroke-width="1" fill="none"/>
<path d="M495.70,621.06L503.90,629.26M503.90,621.06L495.70,629.26" stroke="#000" stroke-width="1" fill="none"/>
<polygon points="290.90,634.50 295.50,643.93 286.30,643.93" fill="#000"/>
<polygon points="325.72,605.58 330.32,615.01 321.12,615.01" fill="#000"/>
<polygon points="360.53,600.75 365.13,610.19 355.93,610.19" fill="#000"/>
<polygon points="395.35,615.22 399.95,624.65 390.75,624.65" fill="#000"/>
<polygon points="499.80,619.50 504.40,628.93 495.20,628.93" fill="#000"/>
<polygon points="290.90,634.96 296.10,640.16 290.90,645.36 285.70,640.16" fill="#000"/>
<polygon points="325.72,606.57 330.92,611.77 325.72,616.97 320.52,611.77" fill="#000"/>
<polygon points="360.53,564.79 365.73,569.99 360.53,575.19 355.33,569.99" fill="#000"/>
<polygon points="395.35,533.18 400.55,538.38 395.35,543.58 390.15,538.38" fill="#000"/>
<polygon points="499.80,608.18 505.00,613.38 499.80,618.58 494.60,613.38" fill="#000"/>
<text x="373.90" y="529.39" font-size="10.6" text-anchor="start" ><tspan font-style="italic">P</tspan>=0.003</text>
<text x="468.60" y="530.97" font-size="15" text-anchor="start" >RxRα</text>
<text x="255.40" y="624.20" font-size="13.5" text-anchor="start" font-weight="bold" font-style="italic" font-family="Liberation Serif, serif" stroke="#000" stroke-width="0.6">f</text>
<line x1="10.20" y1="373.00" x2="10.20" y2="639.20" stroke="#6a6a6a" stroke-width="1.4" />
<polygon points="10.2,368.6 7.1,374.6 13.3,374.6" fill="#000"/>
<text x="14.80" y="760.00" font-size="13" text-anchor="middle" transform="rotate(-90 14.80 760.00)" >Fold change compared to cells in media</text>
<text x="72.50" y="697.15" font-size="13" text-anchor="middle" >Time (Hours)</text>
<line x1="116.00" y1="692.50" x2="506.00" y2="692.50" stroke="#222" stroke-width="1.2" />
<polygon points="511,692.5 503.8,689.2 503.8,695.8" fill="#000"/>
<line x1="38.00" y1="837.02" x2="263.40" y2="837.02" stroke="#e6e6e6" stroke-width="1" />
<line x1="38.00" y1="798.45" x2="263.40" y2="798.45" stroke="#e6e6e6" stroke-width="1" />
<line x1="38.00" y1="759.88" x2="263.40" y2="759.88" stroke="#e6e6e6" stroke-width="1" />
<rect x="38.50" y="721.50" width="225.00" height="154.00" fill="none" stroke="#626262" stroke-width="1.1"/>
<text x="35.30" y="879.66" font-size="10.5" text-anchor="end" >0</text>
<text x="35.30" y="841.08" font-size="10.5" text-anchor="end" >5</text>
<text x="35.30" y="802.51" font-size="10.5" text-anchor="end" >10</text>
<text x="35.30" y="763.93" font-size="10.5" text-anchor="end" >15</text>
<text x="35.30" y="725.36" font-size="10.5" text-anchor="end" >20</text>
<text x="40.30" y="888.76" font-size="10.5" text-anchor="middle" >0</text>
<text x="74.30" y="888.76" font-size="10.5" text-anchor="middle" >4</text>
<text x="111.30" y="888.76" font-size="10.5" text-anchor="middle" >8</text>
<text x="146.00" y="888.76" font-size="10.5" text-anchor="middle" >12</text>
<text x="182.00" y="888.76" font-size="10.5" text-anchor="middle" >16</text>
<text x="218.60" y="888.76" font-size="10.5" text-anchor="middle" >20</text>
<text x="255.00" y="888.76" font-size="10.5" text-anchor="middle" >24</text>
<polyline points="40.00,875.60 75.93,867.88 111.87,849.37 147.80,830.85 255.60,798.45" fill="none" stroke="#000" stroke-width="1" stroke-linejoin="round" />
<polyline points="40.00,875.60 75.93,867.88 111.87,854.00 147.80,833.17 255.60,806.94" fill="none" stroke="#000" stroke-width="1" stroke-linejoin="round" />
<polyline points="40.00,875.60 75.93,867.88 111.87,846.28 147.80,816.19 255.60,752.93" fill="none" stroke="#000" stroke-width="1" stroke-linejoin="round" />
<line x1="75.93" y1="867.88" x2="75.93" y2="863.26" stroke="#000" stroke-width="1" />
<line x1="73.33" y1="863.26" x2="78.53" y2="863.26" stroke="#000" stroke-width="1" />
<line x1="111.87" y1="849.37" x2="111.87" y2="844.74" stroke="#000" stroke-width="1" />
<line x1="109.27" y1="844.74" x2="114.47" y2="844.74" stroke="#000" stroke-width="1" />
<line x1="147.80" y1="830.85" x2="147.80" y2="827.00" stroke="#000" stroke-width="1" />
<line x1="145.20" y1="827.00" x2="150.40" y2="827.00" stroke="#000" stroke-width="1" />
<line x1="255.60" y1="798.45" x2="255.60" y2="793.82" stroke="#000" stroke-width="1" />
<line x1="253.00" y1="793.82" x2="258.20" y2="793.82" stroke="#000" stroke-width="1" />
<line x1="75.93" y1="867.88" x2="75.93" y2="862.48" stroke="#000" stroke-width="1" />
<line x1="73.33" y1="862.48" x2="78.53" y2="862.48" stroke="#000" stroke-width="1" />
<line x1="111.87" y1="846.28" x2="111.87" y2="840.11" stroke="#000" stroke-width="1" />
<line x1="109.27" y1="840.11" x2="114.47" y2="840.11" stroke="#000" stroke-width="1" />
<line x1="147.80" y1="816.19" x2="147.80" y2="809.25" stroke="#000" stroke-width="1" />
<line x1="145.20" y1="809.25" x2="150.40" y2="809.25" stroke="#000" stroke-width="1" />
<line x1="255.60" y1="752.93" x2="255.60" y2="748.30" stroke="#000" stroke-width="1" />
<line x1="253.00" y1="748.30" x2="258.20" y2="748.30" stroke="#000" stroke-width="1" />
<path d="M36.20,871.80L43.80,879.40M43.80,871.80L36.20,879.40" stroke="#000" stroke-width="1" fill="none"/>
<path d="M72.13,864.09L79.73,871.68M79.73,864.09L72.13,871.68" stroke="#000" stroke-width="1" fill="none"/>
<path d="M108.07,845.57L115.67,853.17M115.67,845.57L108.07,853.17" stroke="#000" stroke-width="1" fill="none"/>
<path d="M144.00,827.05L151.60,834.65M151.60,827.05L144.00,834.65" stroke="#000" stroke-width="1" fill="none"/>
<path d="M251.80,794.65L259.40,802.25M259.40,794.65L251.80,802.25" stroke="#000" stroke-width="1" fill="none"/>
<polygon points="40.00,869.70 44.80,879.54 35.20,879.54" fill="#000"/>
<polygon points="75.93,861.98 80.73,871.82 71.13,871.82" fill="#000"/>
<polygon points="111.87,848.09 116.67,857.93 107.07,857.93" fill="#000"/>
<polygon points="147.80,827.26 152.60,837.10 143.00,837.10" fill="#000"/>
<polygon points="255.60,801.03 260.40,810.87 250.80,810.87" fill="#000"/>
<polygon points="40.00,870.60 45.00,875.60 40.00,880.60 35.00,875.60" fill="#000"/>
<polygon points="75.93,862.88 80.93,867.88 75.93,872.88 70.93,867.88" fill="#000"/>
<polygon points="111.87,841.28 116.87,846.28 111.87,851.28 106.87,846.28" fill="#000"/>
<polygon points="147.80,811.19 152.80,816.19 147.80,821.19 142.80,816.19" fill="#000"/>
<polygon points="255.60,747.93 260.60,752.93 255.60,757.93 250.60,752.93" fill="#000"/>
<text x="43.30" y="739.77" font-size="15" text-anchor="start" >CD44</text>
<text x="195.60" y="749.94" font-size="11" text-anchor="start" ><tspan font-style="italic">P</tspan>=0.007</text>
<text x="144.00" y="908.94" font-size="15.2" text-anchor="middle" >Time (Hours)</text>
<text x="272.30" y="725.40" font-size="20.5" text-anchor="start" font-weight="bold" >F</text>
<line x1="307.20" y1="857.16" x2="510.60" y2="857.16" stroke="#e6e6e6" stroke-width="1" />
<line x1="307.20" y1="824.72" x2="510.60" y2="824.72" stroke="#e6e6e6" stroke-width="1" />
<line x1="307.20" y1="792.28" x2="510.60" y2="792.28" stroke="#e6e6e6" stroke-width="1" />
<line x1="307.20" y1="759.84" x2="510.60" y2="759.84" stroke="#e6e6e6" stroke-width="1" />
<rect x="307.50" y="727.50" width="203.00" height="162.00" fill="none" stroke="#626262" stroke-width="1.1"/>
<text x="305.60" y="894.79" font-size="10.3" text-anchor="end" >0</text>
<text x="305.60" y="862.35" font-size="10.3" text-anchor="end" >500</text>
<text x="305.60" y="829.91" font-size="10.3" text-anchor="end" >1000</text>
<text x="305.60" y="797.47" font-size="10.3" text-anchor="end" >1500</text>
<text x="305.60" y="765.03" font-size="10.3" text-anchor="end" >2000</text>
<text x="305.60" y="732.59" font-size="10.3" text-anchor="end" >2500</text>
<text x="281.70" y="808.70" font-size="12.7" text-anchor="middle" transform="rotate(-90 281.70 808.70)" >CD44 MFI</text>
<defs><pattern id="hs" width="4" height="3.2" patternUnits="userSpaceOnUse" y="0"><rect width="4" height="3.2" fill="#fff"/><rect width="4" height="1.7" fill="#000"/></pattern></defs>
<line x1="352.20" y1="863.13" x2="352.20" y2="855.47" stroke="#333" stroke-width="1.2" />
<line x1="347.00" y1="855.47" x2="357.40" y2="855.47" stroke="#333" stroke-width="1.2" />
<line x1="389.35" y1="832.77" x2="389.35" y2="825.04" stroke="#333" stroke-width="1.2" />
<line x1="384.15" y1="825.04" x2="394.55" y2="825.04" stroke="#333" stroke-width="1.2" />
<line x1="426.85" y1="830.62" x2="426.85" y2="815.77" stroke="#333" stroke-width="1.2" />
<line x1="421.65" y1="815.77" x2="432.05" y2="815.77" stroke="#333" stroke-width="1.2" />
<line x1="463.85" y1="761.14" x2="463.85" y2="755.17" stroke="#333" stroke-width="1.2" />
<line x1="458.65" y1="755.17" x2="469.05" y2="755.17" stroke="#333" stroke-width="1.2" />
<rect x="334.00" y="863.13" width="36.40" height="26.47" fill="#8c8c8c" stroke="#777" stroke-width="0.8"/>
<rect x="370.40" y="832.77" width="37.90" height="56.83" fill="url(#hs)" stroke="#000" stroke-width="0.8"/>
<rect x="408.30" y="830.62" width="37.10" height="58.98" fill="#fff" stroke="#000" stroke-width="0.8"/>
<rect x="445.40" y="761.14" width="36.90" height="128.46" fill="#000" stroke="#000" stroke-width="0.8"/>
<line x1="307.20" y1="889.60" x2="510.60" y2="889.60" stroke="#626262" stroke-width="1" />
<text x="350.00" y="899.17" font-size="10.8" text-anchor="middle" >media</text>
<text x="389.50" y="899.17" font-size="10.8" text-anchor="middle" >CD3/28</text>
<text x="427.10" y="899.17" font-size="10.8" text-anchor="middle" >CD3</text>
<text x="465.00" y="899.17" font-size="10.8" text-anchor="middle" >NKG2D</text>
<text x="444.00" y="749.54" font-size="11" text-anchor="start" ><tspan font-style="italic">P</tspan>=0.006</text>
</svg>
</body></html>
